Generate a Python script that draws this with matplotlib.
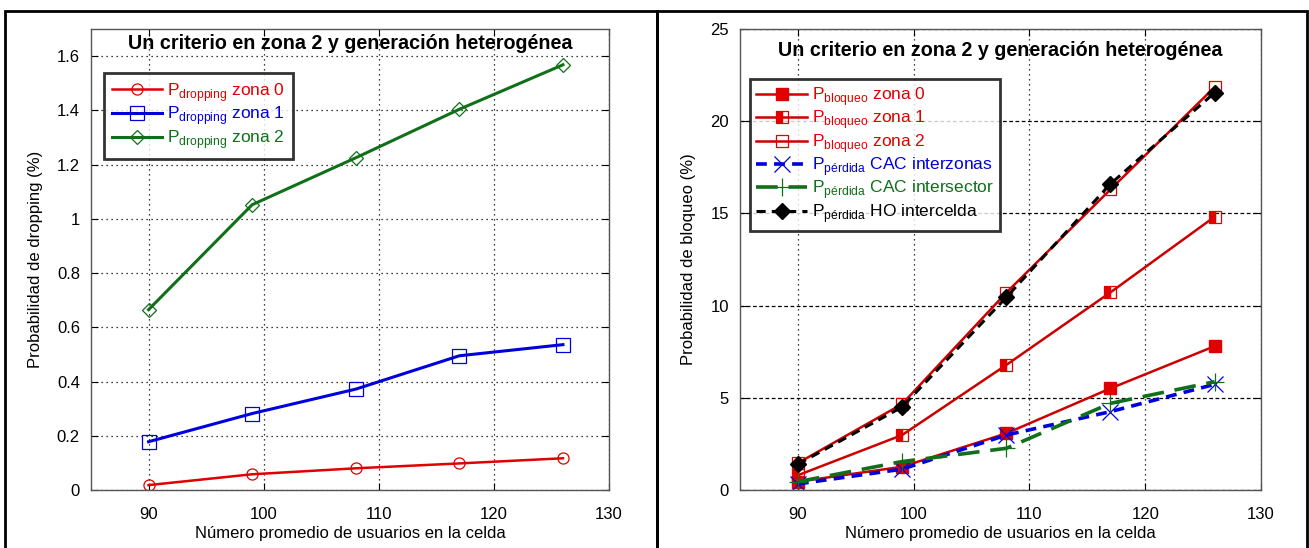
import numpy as np
import matplotlib.pyplot as plt
from matplotlib.patches import Rectangle

plt.rcParams['font.family'] = ['Liberation Sans', 'DejaVu Sans']
plt.rcParams['mathtext.fontset'] = 'custom'
plt.rcParams['mathtext.rm'] = 'Liberation Sans'

# Datos: número promedio de usuarios en la celda
usuarios = np.array([90, 99, 108, 117, 126])

# Probabilidad de dropping (%) por zona
drop_z0 = np.array([0.018, 0.058, 0.080, 0.098, 0.117])
drop_z1 = np.array([0.178, 0.282, 0.372, 0.495, 0.536])
drop_z2 = np.array([0.665, 1.052, 1.225, 1.404, 1.568])

# Probabilidad de bloqueo / pérdida (%)
bloq_z0 = np.array([0.45, 1.26, 3.07, 5.51, 7.80])
bloq_z1 = np.array([0.80, 2.98, 6.78, 10.72, 14.82])
bloq_z2 = np.array([1.46, 4.66, 10.70, 16.30, 21.85])
perd_interzonas = np.array([0.33, 1.13, 2.98, 4.25, 5.73])
perd_intersector = np.array([0.45, 1.54, 2.26, 4.70, 5.87])
perd_ho = np.array([1.40, 4.50, 10.45, 16.60, 21.55])

titulo = 'Un criterio en zona 2 y generación heterogénea'
xlabel = 'Número promedio de usuarios en la celda'

RED = '#e00000'
DRED = '#cc0000'
BLUE = '#0000dd'
GREEN = '#10701a'

fig = plt.figure(figsize=(13.09, 5.48), dpi=100)
W, H = 1309, 548


def px_axes(x0, y0, x1, y1):
    return fig.add_axes([x0 / W, 1 - y1 / H, (x1 - x0) / W, (y1 - y0) / H])


def estilo(ax):
    ax.set_xlim(85, 130)
    ax.set_xticks([90, 100, 110, 120, 130])
    ax.tick_params(direction='in', top=True, right=True, labelsize=12, length=5)
    ax.tick_params(axis='x', pad=12)
    ax.tick_params(axis='y', pad=8)
    for s in ax.spines.values():
        s.set_color('#555555')
        s.set_linewidth(1.0)
    ax.set_xlabel(xlabel, fontsize=12, labelpad=3)


# Recuadros exteriores de cada panel
for x0, x1 in [(5, 657), (657, 1307)]:
    fig.add_artist(Rectangle((x0 / W, -0.05), (x1 - x0) / W, 1.05 - 11 / H,
                             transform=fig.transFigure, fill=False,
                             edgecolor='black', linewidth=2))

# Panel izquierdo: dropping
ax1 = px_axes(91, 29, 609, 490)
estilo(ax1)
ax1.set_ylim(0, 1.7)
ax1.set_yticks([0, 0.2, 0.4, 0.6, 0.8, 1.0, 1.2, 1.4, 1.6])
ax1.set_yticklabels(['0', '0.2', '0.4', '0.6', '0.8', '1', '1.2', '1.4', '1.6'])
ax1.grid(True, color='black', linestyle=(0, (1, 3)), linewidth=0.9)
ax1.plot(usuarios, drop_z0, color=RED, lw=1.8, marker='o', ms=8, mfc='none',
         mec=RED, mew=0.9, label=r'P$_{\mathregular{dropping}}$ zona 0')
ax1.plot(usuarios, drop_z1, color=BLUE, lw=2.2, marker='s', ms=10, mfc='none',
         mec=BLUE, mew=0.9, label=r'P$_{\mathregular{dropping}}$ zona 1')
ax1.plot(usuarios, drop_z2, color=GREEN, lw=2.2, marker='D', ms=7, mfc='none',
         mec=GREEN, mew=0.9, label=r'P$_{\mathregular{dropping}}$ zona 2')
ax1.set_ylabel('Probabilidad de dropping (%)', fontsize=12, labelpad=10)
ax1.text(0.5, 0.99, titulo, transform=ax1.transAxes, ha='center', va='top',
         fontsize=14.2, fontweight='bold')
leg1 = ax1.legend(loc='upper left', bbox_to_anchor=(0.025, 0.905), fontsize=12.5,
                  frameon=True, fancybox=False, edgecolor='black',
                  handlelength=2.9, borderpad=0.45, labelspacing=0.05,
                  handletextpad=0.3, borderaxespad=0)
leg1.get_frame().set_linewidth(2)
for t, c in zip(leg1.get_texts(), [RED, BLUE, GREEN]):
    t.set_color(c)

# Panel derecho: bloqueo
ax2 = px_axes(740, 29, 1261, 490)
estilo(ax2)
ax2.set_ylim(0, 25)
ax2.set_yticks([0, 5, 10, 15, 20, 25])
ax2.xaxis.grid(True, color='black', linestyle=(0, (1, 3)), linewidth=0.9)
ax2.yaxis.grid(True, color='black', linestyle=(0, (3, 2)), linewidth=0.9)
ax2.plot(usuarios, bloq_z0, color=DRED, lw=1.8, marker='s', ms=8, mfc=RED,
         mec=RED, label=r'P$_{\mathregular{bloqueo}}$ zona 0')
ax2.plot(usuarios, bloq_z1, color=DRED, lw=1.8, marker='s', ms=9,
         fillstyle='left', mfc=RED, mec=RED, mew=0.9,
         label=r'P$_{\mathregular{bloqueo}}$ zona 1')
ax2.plot(usuarios, bloq_z2, color=DRED, lw=1.8, marker='s', ms=9, mfc='none',
         mec=RED, mew=0.9, label=r'P$_{\mathregular{bloqueo}}$ zona 2')
ax2.plot(usuarios, perd_interzonas, color=BLUE, lw=2.6, ls=(0, (3, 2)),
         marker='x', ms=11, mec=BLUE, mew=0.9,
         label=r'P$_{\mathregular{pérdida}}$ CAC interzonas')
ax2.plot(usuarios, perd_intersector, color=GREEN, lw=2.6, ls=(0, (6, 3)),
         marker='+', ms=13, mec=GREEN, mew=0.9,
         label=r'P$_{\mathregular{pérdida}}$ CAC intersector')
ax2.plot(usuarios, perd_ho, color='black', lw=2.2, ls=(0, (3, 2)),
         marker='D', ms=8, mfc='black', mec='black',
         label=r'P$_{\mathregular{pérdida}}$ HO intercelda')
ax2.set_ylabel('Probabilidad de bloqueo (%)', fontsize=12, labelpad=10)
ax2.text(0.5, 0.975, titulo, transform=ax2.transAxes, ha='center', va='top',
         fontsize=14.2, fontweight='bold')
leg2 = ax2.legend(loc='upper left', bbox_to_anchor=(0.02, 0.892), fontsize=12.5,
                  frameon=True, fancybox=False, edgecolor='black',
                  handlelength=2.9, borderpad=0.35, labelspacing=0.03,
                  handletextpad=0.3, borderaxespad=0)
leg2.get_frame().set_linewidth(2)
for t, c in zip(leg2.get_texts(), [RED, RED, RED, BLUE, GREEN, 'black']):
    t.set_color(c)

fig.savefig('out.png', dpi=100)
